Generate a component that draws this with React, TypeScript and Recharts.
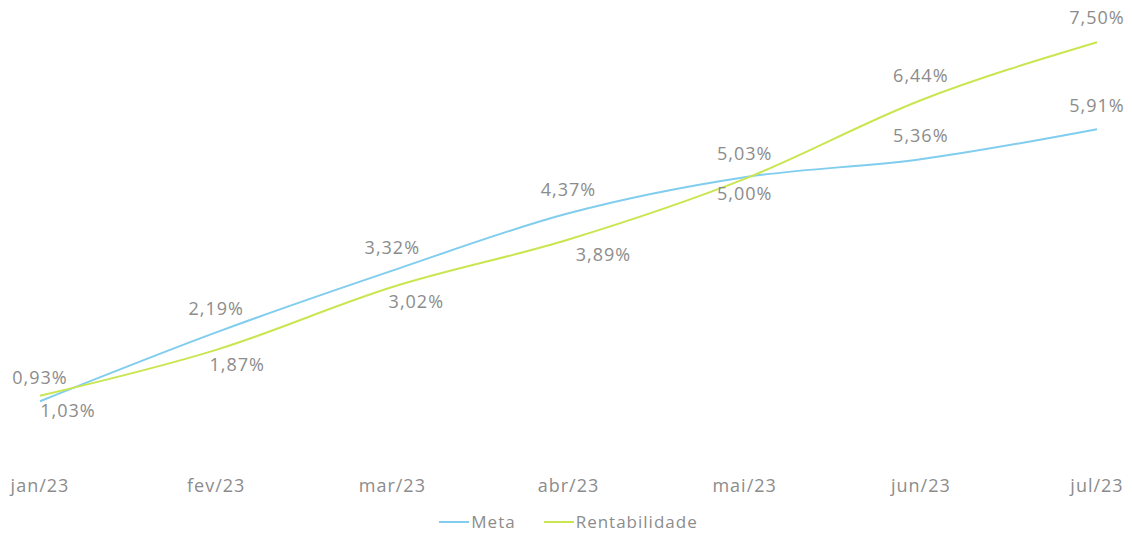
import React from 'react';
import { LineChart, Line, XAxis, YAxis, Legend, LabelList } from 'recharts';

const months = ['jan/23', 'fev/23', 'mar/23', 'abr/23', 'mai/23', 'jun/23', 'jul/23'];
const meta = [0.93, 2.19, 3.32, 4.37, 5.03, 5.36, 5.91];
const rentabilidade = [1.03, 1.87, 3.02, 3.89, 5.0, 6.44, 7.5];
// rentabilidade labels go above the line from this index on
const rentAboveFrom = 5;
// horizontal nudge for the rentabilidade labels placed under the line
const rentLabelDx = [28, 21, 24, 35, 0, 0, 0];

const data = months.map((m, i) => ({ name: m, meta: meta[i], rent: rentabilidade[i] }));

const fmt = (v: number) => v.toFixed(2).replace('.', ',') + '%';

const TEXT = '#8c8c8c';
const BLUE = '#80cdee';
const GREEN = '#c9e651';

const MetaLabel = (props: any) => {
  const { x, y, value } = props;
  return (
    <text x={x} y={y - 17} textAnchor="middle" fill={TEXT} fontSize={18} letterSpacing={1}>
      {fmt(value)}
    </text>
  );
};

const RentLabel = (props: any) => {
  const { x, y, value, index } = props;
  const above = index >= rentAboveFrom;
  return (
    <text
      x={x + (above ? 0 : rentLabelDx[index])}
      y={above ? y - 18 : y + 21}
      textAnchor="middle"
      fill={TEXT}
      fontSize={18}
      letterSpacing={1}
    >
      {fmt(value)}
    </text>
  );
};

const LegendContent = (props: any) => {
  const { payload } = props;
  return (
    <div style={{ display: 'flex', justifyContent: 'center', gap: 28, fontSize: 17, letterSpacing: 1, color: TEXT }}>
      {payload.map((p: any) => (
        <div key={p.value} style={{ display: 'flex', alignItems: 'center', gap: 2 }}>
          <span style={{ display: 'inline-block', width: 30, height: 2, background: p.color }} />
          <span>{p.value}</span>
        </div>
      ))}
    </div>
  );
};

const App: React.FC = () => {
  return (
    <div style={{ position: 'absolute', left: 0, top: 0, width: 1132, height: 537, background: '#fff', fontFamily: '"Open Sans", sans-serif' }}>
      <LineChart width={1132} height={537} data={data} margin={{ top: 15, right: 35, left: 40, bottom: 0 }}>
        <XAxis
          dataKey="name"
          axisLine={false}
          tickLine={false}
          tickMargin={21}
          height={57}
          tick={{ fill: TEXT, fontSize: 18, letterSpacing: 1 }}
          interval={0}
        />
        <YAxis hide domain={[0, 8]} />
        <Legend verticalAlign="bottom" height={28} content={<LegendContent />} wrapperStyle={{ bottom: -1 }} />
        <Line
          type="monotone"
          dataKey="meta"
          name="Meta"
          stroke={BLUE}
          strokeWidth={2}
          dot={false}
          legendType="plainline"
          isAnimationActive={false}
        >
          <LabelList dataKey="meta" content={<MetaLabel />} />
        </Line>
        <Line
          type="monotone"
          dataKey="rent"
          name="Rentabilidade"
          stroke={GREEN}
          strokeWidth={2}
          dot={false}
          legendType="plainline"
          isAnimationActive={false}
        >
          <LabelList dataKey="rent" content={<RentLabel />} />
        </Line>
      </LineChart>
    </div>
  );
};

export default App;
